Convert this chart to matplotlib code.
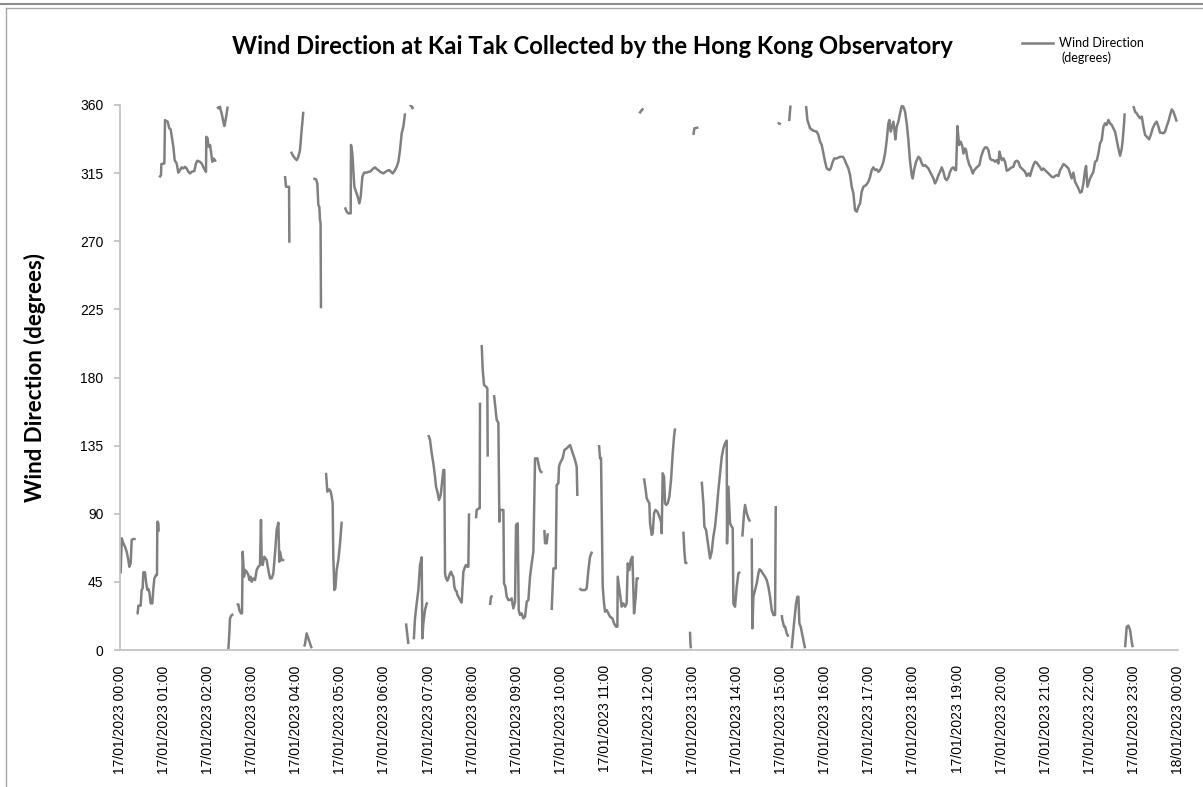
import numpy as np
import matplotlib
matplotlib.use("Agg")
import matplotlib.pyplot as plt
from matplotlib.lines import Line2D

# Wind direction (degrees) at Kai Tak, 17/01/2023, hours after midnight.
# Each inner list is one unbroken run of the line (gaps are blank cells).
seg_hours = [
    [0.015, 0.04, 0.076, 0.113, 0.151, 0.189, 0.212, 0.242, 0.265, 0.302, 0.356],
    [0.378, 0.401, 0.416, 0.469, 0.491, 0.514, 0.529, 0.567, 0.590, 0.620, 0.643,
     0.665, 0.696, 0.733, 0.756, 0.779, 0.817, 0.839, 0.847, 0.870, 0.877],
    [0.892, 0.930, 0.938, 1.006, 1.021, 1.081, 1.119, 1.149, 1.210, 1.240, 1.285, 1.323,
     1.361, 1.399, 1.437, 1.475, 1.512, 1.550, 1.588, 1.626, 1.686, 1.724, 1.754, 1.815,
     1.852, 1.905, 1.951, 1.958, 1.988, 2.004, 2.042, 2.064, 2.094, 2.117, 2.155, 2.170],
    [2.208, 2.231, 2.268, 2.283, 2.306, 2.344, 2.367, 2.389, 2.420, 2.442],
    [2.458, 2.480, 2.495, 2.533, 2.571],
    [2.647, 2.684, 2.707, 2.745, 2.768, 2.783, 2.813, 2.836, 2.874, 2.912, 2.934, 2.964,
     2.987, 3.025, 3.063, 3.100, 3.138, 3.176, 3.198, 3.214, 3.236, 3.274, 3.327, 3.365,
     3.403, 3.440, 3.478, 3.516, 3.554, 3.592, 3.614, 3.629, 3.667, 3.727],
    [3.743, 3.766, 3.789, 3.819, 3.835, 3.842],
    [3.879, 3.917, 3.970, 4.008, 4.046, 4.083, 4.121, 4.159],
    [4.180, 4.197, 4.234, 4.272, 4.310, 4.347],
    [4.386, 4.446, 4.476, 4.499, 4.521, 4.537, 4.550, 4.559],
    [4.673, 4.703, 4.749, 4.779, 4.802, 4.824, 4.839, 4.862, 4.885, 4.915, 4.953, 4.991, 5.029],
    [5.104, 5.142, 5.180, 5.233, 5.240, 5.271, 5.293, 5.316, 5.354, 5.392, 5.430, 5.460,
     5.498, 5.536, 5.596, 5.634, 5.671, 5.709, 5.747, 5.785, 5.823, 5.860, 5.898, 5.974,
     6.050, 6.110, 6.148, 6.186, 6.239, 6.277, 6.315, 6.352, 6.390, 6.428, 6.466],
    [6.488, 6.541],
    [6.560, 6.595, 6.633, 6.650],
    [6.665, 6.692, 6.730, 6.768, 6.805, 6.843, 6.859, 6.881, 6.919, 6.957, 6.980],
    [6.995, 7.033, 7.071, 7.108, 7.146, 7.169, 7.199, 7.237, 7.275, 7.312, 7.335, 7.358,
     7.373, 7.396, 7.426, 7.449, 7.486, 7.509, 7.539, 7.562, 7.585, 7.607, 7.638, 7.653,
     7.676, 7.713, 7.751, 7.774, 7.789, 7.827, 7.849, 7.880, 7.902, 7.917],
    [8.076, 8.091, 8.144, 8.160, 8.167],
    [8.205, 8.228, 8.258, 8.303, 8.333, 8.341],
    [8.394, 8.417, 8.454],
    [8.485, 8.545, 8.583, 8.606, 8.621, 8.697, 8.711, 8.742, 8.772, 8.810, 8.848, 8.885,
     8.923, 8.961, 8.984, 9.022, 9.044, 9.074, 9.112, 9.150, 9.188, 9.226, 9.264, 9.301,
     9.339, 9.377, 9.415, 9.468, 9.513, 9.543, 9.582],
    [9.627, 9.642, 9.680, 9.703],
    [9.793, 9.831, 9.884, 9.906, 9.944, 9.959, 9.982, 10.020, 10.042, 10.080, 10.133,
     10.171, 10.209, 10.247, 10.284, 10.322, 10.360, 10.375],
    [10.420, 10.473, 10.549, 10.587, 10.625, 10.662, 10.708],
    [10.866, 10.889, 10.912, 10.950, 10.980, 11.003, 11.040, 11.078, 11.116, 11.169,
     11.207, 11.252, 11.283, 11.290, 11.320, 11.358, 11.381, 11.419, 11.457, 11.494,
     11.517, 11.555, 11.585, 11.623, 11.661, 11.699, 11.721, 11.774],
    [11.780, 11.870],
    [11.887, 11.925, 11.948, 11.986, 12.008, 12.024, 12.062, 12.084, 12.114, 12.145,
     12.190, 12.235, 12.273, 12.288, 12.311, 12.341, 12.364, 12.387, 12.425, 12.462,
     12.500, 12.538, 12.568, 12.591],
    [12.780, 12.803, 12.825, 12.871],
    [12.930, 12.940, 12.950],
    [13.007, 13.030, 13.120],
    [13.196, 13.234, 13.256, 13.294, 13.347, 13.385, 13.423, 13.460, 13.498, 13.536,
     13.574, 13.612, 13.650, 13.687, 13.725, 13.763, 13.770, 13.801, 13.838, 13.876,
     13.899, 13.914, 13.952, 13.990, 14.028, 14.065],
    [14.118, 14.156, 14.179, 14.217, 14.255, 14.292],
    [14.330, 14.345, 14.368, 14.406, 14.444, 14.482, 14.504, 14.534, 14.580, 14.633,
     14.670, 14.708, 14.746, 14.784, 14.822, 14.860, 14.875],
    [14.920, 14.990],
    [15.010, 15.026, 15.064, 15.087, 15.124, 15.162],
    [15.180, 15.210],
    [15.237, 15.290, 15.336, 15.366, 15.389, 15.411, 15.441, 15.487, 15.517, 15.540],
    [15.563, 15.593, 15.653, 15.729, 15.804, 15.842, 15.880, 15.918, 15.956, 15.994,
     16.032, 16.092, 16.122, 16.168, 16.205, 16.258, 16.334, 16.394, 16.425, 16.470,
     16.523, 16.561, 16.599, 16.636, 16.674, 16.712, 16.750, 16.788, 16.825, 16.863,
     16.924, 16.977, 17.015, 17.052, 17.090, 17.128, 17.166, 17.203, 17.241, 17.279,
     17.317, 17.355, 17.393, 17.430, 17.453, 17.483, 17.514, 17.544, 17.567, 17.589,
     17.620, 17.657, 17.695, 17.733, 17.771, 17.809, 17.846, 17.884, 17.922, 17.960,
     17.982, 18.013, 18.058, 18.111, 18.149, 18.187, 18.224, 18.262, 18.300, 18.338,
     18.376, 18.414, 18.451, 18.489, 18.527, 18.565, 18.603, 18.640, 18.678, 18.716,
     18.754, 18.792, 18.829, 18.867, 18.905, 18.943, 18.966, 18.996, 19.034, 19.072,
     19.109, 19.132, 19.170, 19.192, 19.223, 19.268, 19.298, 19.344, 19.381, 19.434,
     19.495, 19.533, 19.586, 19.624, 19.662, 19.699, 19.737, 19.775, 19.813, 19.851,
     19.888, 19.926, 19.949, 19.979, 20.002, 20.039, 20.077, 20.115, 20.153, 20.191,
     20.228, 20.266, 20.304, 20.342, 20.380, 20.417, 20.455, 20.493, 20.531, 20.569,
     20.607, 20.644, 20.682, 20.720, 20.758, 20.796, 20.834, 20.871, 20.909, 20.947,
     20.985, 21.022, 21.060, 21.098, 21.136, 21.174, 21.211, 21.249, 21.287, 21.325,
     21.363, 21.400, 21.438, 21.476, 21.514, 21.552, 21.589, 21.627, 21.665, 21.703,
     21.741, 21.779, 21.816, 21.854, 21.892, 21.915, 21.945, 21.968, 22.005, 22.043,
     22.081, 22.119, 22.157, 22.194, 22.232, 22.270, 22.308, 22.346, 22.383, 22.421,
     22.459, 22.497, 22.535, 22.572, 22.610, 22.648, 22.686, 22.724, 22.746, 22.777,
     22.790],
    [22.800, 22.837, 22.875, 22.913, 22.950, 22.973],
    [22.988, 23.026, 23.064, 23.102, 23.140, 23.178, 23.216, 23.253, 23.291, 23.344,
     23.382, 23.427, 23.480, 23.518, 23.556, 23.593, 23.631, 23.669, 23.707, 23.745,
     23.782, 23.820, 23.858, 23.896, 23.934, 23.972],
]

seg_deg = [
    [50.6, 73.8, 70.5, 68.3, 65.0, 59.4, 55.0, 57.3, 72.7, 73.3, 73.3],
    [24.2, 24.2, 29.3, 29.3, 39.6, 40.7, 51.3, 51.3, 45.1, 39.6, 40.3,
     38.5, 30.8, 30.8, 40.3, 47.3, 49.5, 49.5, 84.8, 83.7, 78.2],
    [312.2, 313.7, 321.0, 321.4, 350.0, 349.0, 344.6, 343.9, 332.5, 323.6, 321.4, 315.3,
     317.0, 318.8, 318.1, 319.2, 318.1, 315.9, 314.8, 315.9, 316.4, 321.4, 323.2, 322.5,
     321.4, 318.1, 315.9, 339.0, 338.0, 332.5, 333.6, 329.2, 322.5, 324.7, 323.6, 322.5],
    [358.9, 357.8, 358.9, 356.7, 354.5, 349.0, 346.1, 349.0, 354.5, 359.0],
    [0.4, 11.0, 20.9, 23.1, 23.6],
    [29.7, 30.2, 26.4, 24.2, 24.2, 64.9, 48.4, 52.8, 51.7, 49.5, 46.2, 48.4,
     45.1, 47.3, 46.2, 52.8, 55.0, 56.1, 85.9, 57.2, 56.1, 61.6, 59.4, 52.8,
     47.3, 47.3, 50.6, 63.8, 79.3, 84.1, 58.3, 64.9, 59.4, 59.4],
    [313.1, 306.0, 306.0, 306.0, 306.0, 269.0],
    [329.2, 326.9, 324.7, 323.6, 325.8, 330.3, 343.5, 355.6],
    [2.2, 4.0, 11.0, 7.7, 4.4, 1.1],
    [311.5, 310.9, 308.2, 293.9, 292.8, 284.0, 282.0, 225.7],
    [117.1, 104.6, 106.1, 104.6, 101.3, 97.3, 61.6, 39.6, 40.7, 52.8, 59.4, 70.4, 84.8],
    [292.4, 289.5, 288.4, 288.4, 333.6, 328.0, 317.0, 306.0, 302.7, 299.4, 295.0, 299.4,
     312.6, 315.3, 315.3, 315.9, 315.9, 317.0, 318.1, 318.8, 317.7, 317.0, 315.9, 314.8,
     316.4, 317.0, 315.9, 314.8, 317.0, 319.2, 322.5, 330.3, 341.3, 345.7, 354.5],
    [17.6, 4.0],
    [360.0, 360.0, 357.8, 358.9],
    [7.0, 20.9, 30.8, 39.6, 56.1, 61.2, 7.7, 17.6, 26.4, 30.8, 31.3],
    [142.0, 138.7, 129.9, 123.3, 114.5, 107.9, 104.6, 99.1, 102.4, 112.3, 118.9, 118.9,
     50.6, 47.3, 45.8, 47.3, 50.6, 51.7, 49.5, 48.4, 41.8, 39.6, 38.5, 36.3,
     35.2, 33.0, 31.3, 44.0, 51.7, 55.0, 56.1, 55.0, 55.0, 90.3],
    [87.0, 92.5, 93.6, 93.6, 163.4],
    [201.5, 185.0, 175.0, 174.0, 172.8, 127.7],
    [29.7, 35.2, 35.7],
    [168.4, 151.9, 150.2, 84.8, 92.5, 92.5, 44.0, 41.8, 35.2, 33.0, 33.0, 34.1,
     27.5, 31.9, 82.6, 83.7, 26.4, 23.1, 24.2, 20.9, 22.0, 31.9, 33.0, 48.4,
     57.2, 64.9, 126.6, 126.6, 120.0, 117.8, 117.1],
    [79.3, 70.5, 70.5, 77.1],
    [26.4, 53.9, 53.9, 109.0, 110.1, 121.1, 123.3, 125.5, 126.6, 132.1, 133.2,
     134.3, 135.4, 132.1, 128.8, 125.5, 121.1, 101.7],
    [40.7, 39.6, 39.6, 40.7, 52.8, 61.6, 65.0],
    [135.4, 126.6, 126.6, 41.8, 30.8, 25.3, 26.4, 24.2, 22.0, 20.9,
     17.6, 15.4, 15.4, 48.4, 41.8, 33.0, 28.6, 30.8, 28.6, 30.8,
     57.2, 52.8, 59.4, 61.6, 24.2, 35.2, 47.3, 47.3],
    [354.5, 357.8],
    [113.4, 105.7, 100.2, 98.0, 96.9, 83.7, 76.0, 77.1, 90.3, 92.5,
     91.4, 88.1, 84.8, 77.1, 116.7, 114.5, 96.9, 95.8, 96.9, 101.3,
     112.3, 129.9, 140.9, 146.4],
    [78.2, 65.0, 57.7, 57.2],
    [12.1, 4.4, 1.1],
    [340.2, 344.6, 345.2],
    [111.2, 96.9, 81.5, 79.3, 68.2, 60.5, 64.9, 74.9, 81.5, 92.5,
     105.7, 116.7, 127.7, 133.2, 136.5, 138.3, 70.4, 107.9, 83.7, 81.5,
     80.4, 30.8, 28.6, 41.8, 50.6, 51.7],
    [74.9, 90.3, 95.8, 90.3, 87.0, 84.8],
    [73.8, 14.3, 35.2, 39.6, 44.0, 50.6, 53.3, 52.8, 50.6, 48.4,
     46.2, 41.8, 35.2, 26.4, 23.1, 23.1, 95.1],
    [348.3, 347.2],
    [23.1, 19.8, 15.4, 15.4, 11.0, 8.8],
    [349.4, 359.7],
    [1.1, 17.6, 30.8, 35.2, 35.2, 17.6, 15.4, 8.8, 4.4, 1.1],
    [359.3, 350.1, 344.6, 343.0, 342.4, 340.2, 335.8, 333.6, 328.0, 322.5,
     318.1, 317.0, 318.1, 322.5, 324.7, 324.7, 325.8, 325.8, 324.7, 321.4,
     318.1, 313.7, 306.0, 301.6, 290.6, 289.5, 292.8, 295.0, 302.7, 306.0,
     307.1, 309.3, 312.6, 317.0, 318.8, 317.0, 317.5, 315.9, 317.0, 319.2,
     322.5, 328.0, 336.9, 347.9, 350.1, 342.4, 345.7, 349.0, 343.5, 337.3,
     345.7, 349.0, 354.5, 359.3, 358.9, 355.6, 347.9, 336.9, 322.5, 313.7,
     311.5, 317.0, 322.5, 325.8, 324.7, 321.4, 319.7, 320.3, 319.2, 318.1,
     315.9, 313.7, 311.5, 308.2, 310.4, 313.7, 315.9, 318.8, 315.9, 311.5,
     310.4, 312.2, 315.9, 318.1, 318.8, 317.0, 317.0, 346.1, 333.6, 335.8,
     332.5, 328.0, 331.3, 330.3, 324.7, 320.3, 318.8, 314.8, 317.0, 318.8,
     320.3, 325.8, 330.3, 332.0, 332.0, 330.3, 324.7, 323.6, 323.6, 322.5,
     323.6, 321.4, 329.2, 325.8, 323.6, 324.7, 322.5, 316.6, 317.0, 318.1,
     318.8, 319.2, 322.5, 323.2, 322.5, 319.2, 318.1, 317.0, 315.9, 313.1,
     314.8, 313.1, 317.0, 320.3, 322.5, 321.9, 320.3, 318.8, 317.0, 318.1,
     317.0, 315.9, 314.8, 313.7, 312.6, 312.2, 313.1, 313.7, 313.1, 317.0,
     318.8, 321.0, 320.3, 319.2, 318.1, 314.8, 311.5, 315.3, 309.3, 307.1,
     304.9, 302.1, 302.7, 308.2, 317.0, 319.7, 306.0, 308.2, 311.5, 313.7,
     315.9, 322.5, 323.2, 328.0, 334.7, 336.9, 345.7, 347.9, 346.8, 350.1,
     347.9, 346.8, 344.6, 342.4, 336.9, 331.3, 326.5, 331.3, 336.9, 347.9,
     354.5],
    [1.8, 15.4, 16.1, 13.2, 5.5, 1.8],
    [359.3, 355.6, 354.5, 352.7, 351.2, 352.3, 345.7, 340.2, 339.1, 337.3,
     340.2, 344.6, 347.9, 349.0, 345.7, 341.7, 341.7, 341.3, 342.4, 346.1,
     349.0, 353.4, 357.1, 355.6, 352.3, 349.0],
]

hour_ticks = list(range(25))
tick_labels = [f"17/01/2023 {h:02d}:00" for h in range(24)] + ["18/01/2023 00:00"]
deg_ticks = list(range(0, 361, 45))

# join the runs into one line, with NaN where the line breaks
xs, ys = [], []
for h, d in zip(seg_hours, seg_deg):
    assert len(h) == len(d), (h[0], len(h), len(d))
    xs += h + [np.nan]
    ys += d + [np.nan]

W, H = 1203, 787
fig = plt.figure(figsize=(W / 100, H / 100), dpi=100)
ax = fig.add_axes([120 / W, 1 - 650 / H, 1058 / W, 545 / H])

ax.plot(xs, ys, color="#808080", lw=1.8, solid_capstyle="butt")

ax.set_xlim(0, 24)
ax.set_ylim(0, 360)
ax.set_yticks(deg_ticks)
ax.set_xticks(hour_ticks)
ax.set_xticklabels(tick_labels, rotation=90, fontsize=10, family="Liberation Sans")
for lab in ax.get_yticklabels():
    lab.set_family("Liberation Sans")
    lab.set_fontsize(10)

for side in ["top", "right"]:
    ax.spines[side].set_visible(False)
for side in ["left", "bottom"]:
    ax.spines[side].set_color("#bfbfbf")
    ax.spines[side].set_linewidth(1.2)
ax.tick_params(axis="y", length=4, width=1.2, color="#bfbfbf", pad=8)
ax.tick_params(axis="x", length=0, pad=11)

fig.text(35 / W, 1 - 378 / H, "Wind Direction (degrees)", rotation=90,
         ha="center", va="center", fontsize=16, fontweight="bold", family="Lato")

fig.text(592 / W, 1 - 47 / H,
         "Wind Direction at Kai Tak Collected by the Hong Kong Observatory",
         ha="center", va="center", fontsize=17.2, fontweight="bold", family="Lato")

# legend drawn by hand, like the small Excel legend at top right
fig.add_artist(Line2D([1022 / W, 1053 / W], [1 - 43 / H, 1 - 43 / H],
                      color="#808080", lw=1.8))
fig.text(1059 / W, 1 - 43 / H, "Wind Direction", ha="left", va="center",
         fontsize=9, family="Lato")
fig.text(1062 / W, 1 - 58 / H, "(degrees)", ha="left", va="center",
         fontsize=9, family="Lato")

# outer frame of the chart area
fig.add_artist(Line2D([0, 1], [1 - 4 / H, 1 - 4 / H], color="#8c8c8c", lw=1.5))
fig.add_artist(Line2D([6 / W, 1], [1 - 7.5 / H, 1 - 7.5 / H], color="#a6a6a6", lw=1))
fig.add_artist(Line2D([6 / W, 6 / W], [0, 1 - 7.5 / H], color="#a6a6a6", lw=1))

fig.savefig("out.png", dpi=100)
